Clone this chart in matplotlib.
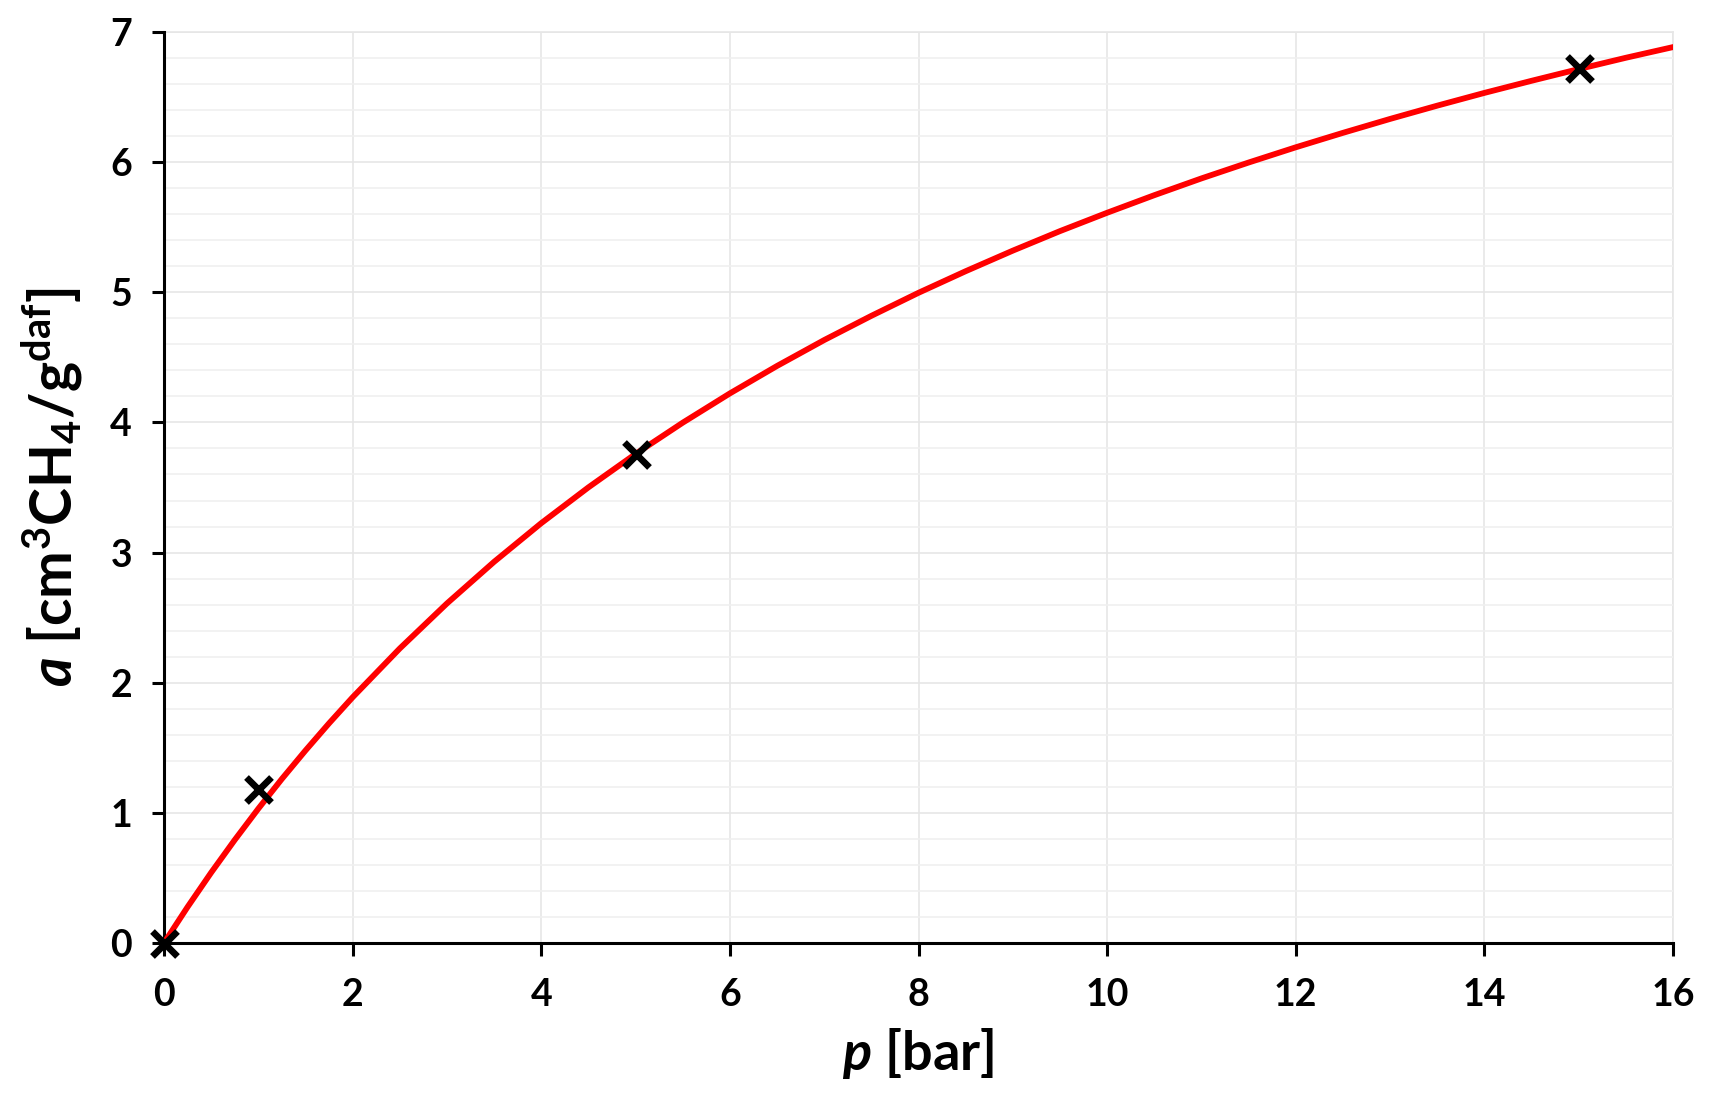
import numpy as np
import matplotlib.pyplot as plt
from matplotlib.ticker import MultipleLocator

# measured points
p_meas = [0, 1, 5, 15]
a_meas = [0.0, 1.18, 3.76, 6.72]

# fitted curve
p_fit = [0, 0.25, 0.5, 0.75, 1, 1.25, 1.5, 1.75, 2, 2.5, 3, 3.5, 4, 4.5, 5, 5.5, 6, 6.5, 7, 7.5,
         8, 8.5, 9, 9.5, 10, 10.5, 11, 11.5, 12, 12.5, 13, 13.5, 14, 14.5, 15, 15.5, 16]
a_fit = [0.0, 0.277, 0.541, 0.792, 1.032, 1.261, 1.479, 1.688, 1.888, 2.263, 2.609, 2.929,
         3.226, 3.501, 3.758, 3.998, 4.223, 4.434, 4.633, 4.819, 4.996, 5.162, 5.320, 5.470,
         5.611, 5.746, 5.875, 5.997, 6.114, 6.225, 6.332, 6.434, 6.532, 6.625, 6.715, 6.802,
         6.884]

plt.rcParams['font.family'] = 'Lato'
plt.rcParams['font.weight'] = 'bold'
plt.rcParams['mathtext.fontset'] = 'custom'
plt.rcParams['mathtext.rm'] = 'Lato:bold'
plt.rcParams['mathtext.it'] = 'Lato:bold:italic'
plt.rcParams['mathtext.bf'] = 'Lato:bold'

fig = plt.figure(figsize=(17.17, 11.08), dpi=100)
ax = fig.add_axes([164 / 1717, 1 - 943 / 1108, 1509 / 1717, 911 / 1108])

ax.plot(p_fit, a_fit, color='#ff0000', lw=4.2, solid_joinstyle='round', zorder=3)
ax.plot(p_meas, a_meas, 'x', color='black', ms=18, mew=4.8, zorder=4, clip_on=False)

ax.set_xlim(0, 16)
ax.set_ylim(0, 7)
ax.xaxis.set_major_locator(MultipleLocator(2))
ax.yaxis.set_major_locator(MultipleLocator(1))
ax.yaxis.set_minor_locator(MultipleLocator(0.2))
ax.grid(True, which='major', color='#e6e6e6', lw=1.2)
ax.grid(True, which='minor', axis='y', color='#f0f0f0', lw=1.2)
ax.set_axisbelow(True)

for s in ['top', 'right']:
    ax.spines[s].set_visible(False)
for s in ['left', 'bottom']:
    ax.spines[s].set_linewidth(2.2)
ax.plot([0, 16], [7, 7], color='#e6e6e6', lw=1.2, zorder=0, clip_on=False)
ax.plot([16, 16], [0, 7], color='#e6e6e6', lw=1.2, zorder=0, clip_on=False)

ax.tick_params(which='major', direction='out', length=9, width=2.2, labelsize=27)
ax.tick_params(axis='x', pad=16)
ax.tick_params(axis='y', pad=14)
ax.tick_params(which='minor', length=0)

ax.set_xlabel(r'$p$ [bar]', fontsize=39, fontweight='bold', labelpad=10)
ax.set_ylabel(r'$a$ [cm$^{3}$CH$_{4}$/g$^{\mathrm{daf}}$]', fontsize=41, fontweight='bold',
              labelpad=18)

fig.savefig('out.png', dpi=100)
